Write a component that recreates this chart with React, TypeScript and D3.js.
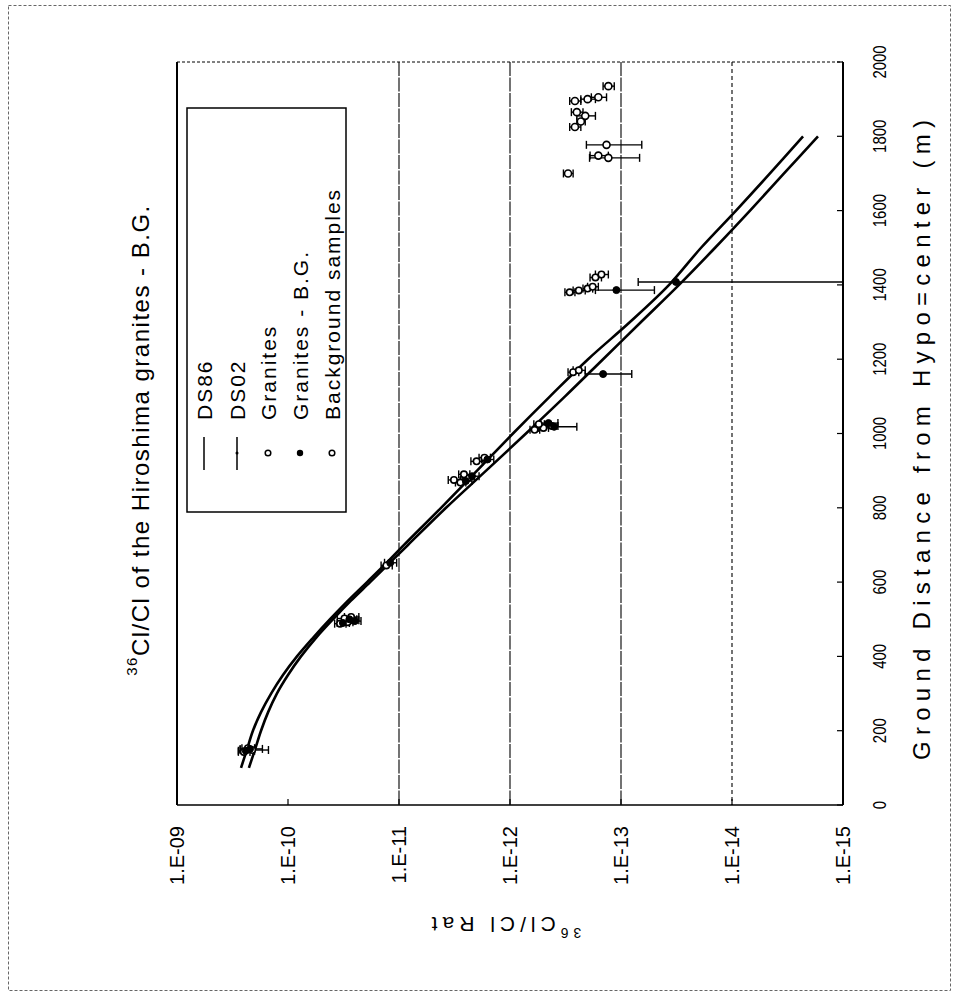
import React from "react";
import * as d3 from "d3";

// ---------- data ----------
const distTicks = [0, 200, 400, 600, 800, 1000, 1200, 1400, 1600, 1800, 2000];
const ratioTicks = [1e-9, 1e-10, 1e-11, 1e-12, 1e-13, 1e-14, 1e-15];
const ratioTickLabels = ["1.E-09", "1.E-10", "1.E-11", "1.E-12", "1.E-13", "1.E-14", "1.E-15"];
const gridRatios = [1e-11, 1e-12, 1e-13, 1e-14];

const curveDist = [100, 150, 200, 250, 300, 350, 400, 450, 500, 550, 600, 650, 700, 800, 900, 1000, 1100, 1200, 1300, 1400, 1500, 1600, 1700, 1800];
const ds02 = [2.65e-10, 2.34e-10, 2.07e-10, 1.75e-10, 1.42e-10, 1.11e-10, 8.3e-11, 5.95e-11, 4.18e-11, 2.88e-11, 1.94e-11, 1.31e-11, 9.02e-12, 4.18e-12, 1.98e-12, 9.4e-13, 4.36e-13, 1.98e-13, 8.3e-14, 3.69e-14, 1.9e-14, 9.2e-15, 4.55e-15, 2.29e-15];
const ds86 = [2.25e-10, 1.98e-10, 1.75e-10, 1.51e-10, 1.26e-10, 1.0e-10, 7.64e-11, 5.59e-11, 3.93e-11, 2.71e-11, 1.82e-11, 1.23e-11, 8.3e-12, 3.77e-12, 1.64e-12, 7.18e-13, 3.19e-13, 1.45e-13, 6.6e-14, 3.0e-14, 1.42e-14, 6.88e-15, 3.4e-15, 1.68e-15];

// [distance (m), ratio, +/- error]
const granites: [number, number, number][] = [
  [143, 2.5e-10, 0.3e-10], [148, 2.1e-10, 0.6e-10], [153, 2.3e-10, 0.3e-10],
  [488, 3.4e-11, 0.4e-11], [492, 2.9e-11, 0.3e-11], [497, 2.6e-11, 0.3e-11], [502, 3.1e-11, 0.5e-11], [506, 2.7e-11, 0.4e-11],
  [645, 1.3e-11, 0.15e-11],
  [868, 2.8e-12, 0.3e-12], [875, 3.2e-12, 0.4e-12], [880, 2.4e-12, 0.3e-12], [890, 2.6e-12, 0.3e-12], [925, 2.0e-12, 0.25e-12], [935, 1.7e-12, 0.2e-12],
  [1010, 6.0e-13, 0.6e-13], [1015, 5.0e-13, 0.5e-13], [1020, 4.2e-13, 0.5e-13], [1025, 5.5e-13, 0.6e-13],
  [1165, 2.7e-13, 0.3e-13], [1170, 2.4e-13, 0.3e-13],
  [1380, 2.9e-13, 0.3e-13], [1385, 2.4e-13, 0.3e-13], [1390, 2.0e-13, 0.2e-13], [1395, 1.8e-13, 0.2e-13], [1420, 1.7e-13, 0.2e-13], [1428, 1.5e-13, 0.2e-13],
];
const granitesBG: [number, number, number][] = [
  [146, 2.4e-10, 0.4e-10], [151, 2.2e-10, 0.5e-10],
  [490, 3.2e-11, 0.4e-11], [495, 2.5e-11, 0.3e-11], [500, 2.8e-11, 0.4e-11],
  [652, 1.2e-11, 0.15e-11],
  [872, 2.5e-12, 0.3e-12], [885, 2.2e-12, 0.3e-12], [930, 1.6e-12, 0.2e-12],
  [1018, 4.0e-13, 1.5e-13], [1028, 4.5e-13, 0.8e-13],
  [1160, 1.45e-13, 0.65e-13],
  [1386, 1.1e-13, 0.6e-13], [1408, 3.2e-14, 3.8e-14],
];
const background: [number, number, number][] = [
  [1700, 3.0e-13, 0.3e-13], [1742, 1.3e-13, 0.62e-13], [1748, 1.6e-13, 0.3e-13], [1777, 1.35e-13, 0.7e-13],
  [1825, 2.6e-13, 0.3e-13], [1840, 2.3e-13, 0.2e-13], [1855, 2.1e-13, 0.4e-13], [1865, 2.5e-13, 0.3e-13],
  [1895, 2.6e-13, 0.3e-13], [1900, 2.0e-13, 0.3e-13], [1905, 1.6e-13, 0.25e-13], [1935, 1.3e-13, 0.15e-13],
];

const legendItems = ["DS86", "DS02", "Granites", "Granites - B.G.", "Background samples"];

// ---------- layout ----------
const W = 955, H = 1000;
const L = 177, R = 843, T = 62, B = 805;
const FONT = "'Liberation Sans', Arial, Helvetica, sans-serif";

export default function App() {
  const x = d3.scaleLog().domain([1e-9, 1e-15]).range([L, R]);
  const y = d3.scaleLinear().domain([0, 2000]).range([B, T]);
  const line = d3.line<[number, number]>().x(d => x(d[1])).y(d => y(d[0])).curve(d3.curveCatmullRom.alpha(0.5));

  const errBar = (p: [number, number, number], key: string) => {
    const [d, v, e] = p;
    const yy = y(d);
    const hi = v + e;
    const lo = v - e;
    const xHi = x(hi);
    const xLo = lo > 1e-15 ? x(lo) : R;
    return (
      <g key={key} stroke="#000" strokeWidth={1.4}>
        <line x1={xHi} x2={xLo} y1={yy} y2={yy} />
        <line x1={xHi} x2={xHi} y1={yy - 4} y2={yy + 4} />
        {lo > 1e-15 && <line x1={xLo} x2={xLo} y1={yy - 4} y2={yy + 4} />}
      </g>
    );
  };

  const rot = (cx: number, cy: number) => `translate(${cx},${cy}) rotate(-90)`;

  const legX = [204, 237, 268, 300, 332];

  return (
    <svg width={W} height={H} style={{ position: "absolute", left: 0, top: 0, background: "#fff" }} fontFamily={FONT}>
      {/* outer frame */}
      <rect x={8.5} y={5.5} width={942} height={985} fill="none" stroke="#666" strokeWidth={1} strokeDasharray="3,2" />

      {/* grid lines */}
      {gridRatios.map((g, i) => (
        <line key={"g" + i} x1={x(g)} x2={x(g)} y1={T} y2={B} stroke="#000" strokeWidth={1.1} strokeDasharray={i === 3 ? "4,3" : "14,1.5"} />
      ))}

      {/* plot frame */}
      <line x1={L} x2={L} y1={T} y2={B} stroke="#000" strokeWidth={2} />
      <line x1={R} x2={R} y1={T} y2={B} stroke="#000" strokeWidth={2} />
      <line x1={L} x2={R} y1={B} y2={B} stroke="#000" strokeWidth={1.6} />
      <line x1={L} x2={R} y1={T} y2={T} stroke="#000" strokeWidth={1} strokeDasharray="3,2" />

      {/* ticks */}
      {ratioTicks.map((t, i) => (
        <line key={"rt" + i} x1={x(t)} x2={x(t)} y1={B} y2={B - 6} stroke="#000" strokeWidth={1.2} />
      ))}
      {distTicks.map((t, i) => (
        <line key={"dt" + i} x1={R} x2={R - 6} y1={y(t)} y2={y(t)} stroke="#000" strokeWidth={1.2} />
      ))}

      {/* tick labels */}
      {ratioTicks.map((t, i) => (
        <text key={"rl" + i} transform={rot(x(t), 826)} textAnchor="end" dominantBaseline="central" fontSize={20}>
          {ratioTickLabels[i]}
        </text>
      ))}
      {distTicks.map((t, i) => (
        <text key={"dl" + i} transform={rot(880, y(t))} textAnchor="middle" dominantBaseline="central" fontSize={18}
          textLength={String(t).length * 8.3} lengthAdjust="spacingAndGlyphs">
          {t}
        </text>
      ))}

      {/* axis titles */}
      <text transform={rot(921, 440)} textAnchor="middle" dominantBaseline="central" fontSize={24} textLength={640} lengthAdjust="spacing">
        Ground Distance from Hypo=center (m)
      </text>
      <text transform={`translate(504,925) rotate(180)`} textAnchor="middle" dominantBaseline="central" fontSize={21} letterSpacing={5}>
        <tspan fontSize={14} dy={-8}>36</tspan>
        <tspan dy={8}>Cl/Cl Rat</tspan>
      </text>

      {/* chart title */}
      <text transform={rot(140, 440)} textAnchor="middle" dominantBaseline="central" fontSize={24} letterSpacing={1.5}>
        <tspan fontSize={15} dy={-9}>36</tspan>
        <tspan dy={9}>Cl/Cl of the Hiroshima granites - B.G.</tspan>
      </text>

      {/* curves */}
      <path d={line(curveDist.map((d, i) => [d, ds02[i]]) as [number, number][]) || ""} fill="none" stroke="#000" strokeWidth={2.6} />
      <path d={line(curveDist.map((d, i) => [d, ds86[i]]) as [number, number][]) || ""} fill="none" stroke="#000" strokeWidth={2.6} />

      {/* error bars */}
      {granites.map((p, i) => errBar(p, "ge" + i))}
      {granitesBG.map((p, i) => errBar(p, "be" + i))}
      {background.map((p, i) => errBar(p, "se" + i))}

      {/* markers */}
      {granites.map((p, i) => (
        <circle key={"gm" + i} cx={x(p[1])} cy={y(p[0])} r={3.2} fill="#fff" stroke="#000" strokeWidth={1.6} />
      ))}
      {granitesBG.map((p, i) => (
        <circle key={"bm" + i} cx={x(p[1])} cy={y(p[0])} r={3.5} fill="#000" stroke="#000" strokeWidth={1} />
      ))}
      {background.map((p, i) => (
        <circle key={"sm" + i} cx={x(p[1])} cy={y(p[0])} r={3.5} fill="#fff" stroke="#000" strokeWidth={1.6} />
      ))}

      {/* legend */}
      <rect x={187} y={108} width={159} height={404} fill="#fff" stroke="#000" strokeWidth={1.5} />
      <line x1={legX[0]} x2={legX[0]} y1={437} y2={470} stroke="#000" strokeWidth={1.5} />
      <line x1={legX[1]} x2={legX[1]} y1={437} y2={470} stroke="#000" strokeWidth={1.5} />
      <circle cx={legX[1]} cy={453} r={1.5} fill="#000" />
      <circle cx={legX[2]} cy={453} r={2.8} fill="#fff" stroke="#000" strokeWidth={1.5} />
      <circle cx={legX[3]} cy={453} r={3.2} fill="#000" />
      <circle cx={legX[4]} cy={453} r={2.8} fill="#fff" stroke="#000" strokeWidth={1.5} />
      {legendItems.map((s, i) => (
        <text key={"lg" + i} transform={rot(legX[i], 420)} textAnchor="start" dominantBaseline="central" fontSize={21} letterSpacing={2}>
          {s}
        </text>
      ))}
    </svg>
  );
}
